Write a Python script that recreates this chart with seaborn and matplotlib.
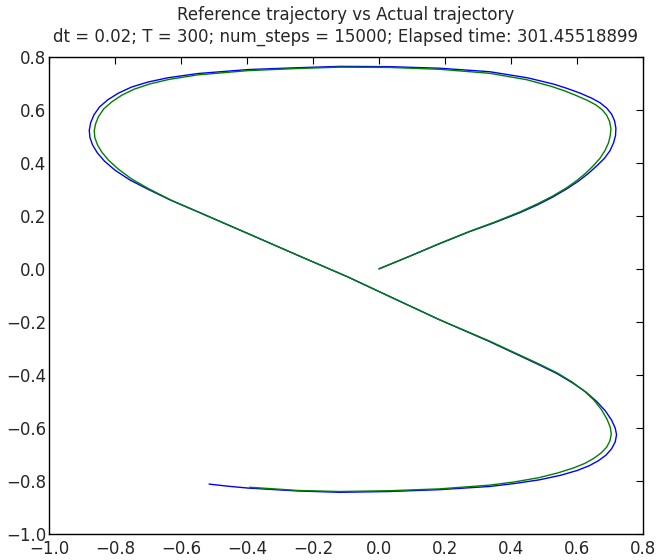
import numpy as np
import pandas as pd
import matplotlib
matplotlib.use("Agg")
import matplotlib.pyplot as plt
import seaborn as sns

# Reference trajectory (blue)
ref_x = [0.000, 0.090, 0.184, 0.274, 0.350, 0.426, 0.480, 0.526, 0.570, 0.605,
         0.635, 0.660, 0.683, 0.700, 0.711, 0.717, 0.718, 0.714, 0.705, 0.690,
         0.670, 0.645, 0.610, 0.570, 0.530, 0.450, 0.335, 0.184, 0.032, -0.119,
         -0.246, -0.397, -0.549, -0.640, -0.700, -0.750, -0.790, -0.822, -0.847, -0.864,
         -0.874, -0.878, -0.876, -0.868, -0.854, -0.832, -0.800, -0.755, -0.700, -0.630,
         -0.549, -0.397, -0.246, -0.095, 0.032, 0.184, 0.335, 0.486, 0.540, 0.587,
         0.628, 0.660, 0.686, 0.705, 0.716, 0.720, 0.716, 0.705, 0.688, 0.665,
         0.637, 0.600, 0.550, 0.486, 0.410, 0.335, 0.184, 0.032, -0.119, -0.246,
         -0.397, -0.458, -0.515]
ref_y = [0.000, 0.046, 0.095, 0.140, 0.174, 0.211, 0.241, 0.270, 0.302, 0.331,
         0.360, 0.388, 0.416, 0.445, 0.475, 0.503, 0.530, 0.558, 0.583, 0.606,
         0.626, 0.643, 0.662, 0.680, 0.696, 0.720, 0.743, 0.756, 0.762, 0.763,
         0.758, 0.751, 0.736, 0.720, 0.704, 0.685, 0.662, 0.637, 0.610, 0.580,
         0.550, 0.522, 0.495, 0.467, 0.438, 0.406, 0.372, 0.335, 0.300, 0.258,
         0.215, 0.133, 0.051, -0.030, -0.104, -0.192, -0.274, -0.362, -0.395, -0.430,
         -0.465, -0.500, -0.535, -0.570, -0.600, -0.625, -0.652, -0.678, -0.702, -0.723,
         -0.742, -0.760, -0.778, -0.795, -0.809, -0.820, -0.832, -0.839, -0.842, -0.837,
         -0.826, -0.819, -0.811]

# Actual trajectory (green)
act_x = [0.000, 0.090, 0.184, 0.274, 0.350, 0.426, 0.480, 0.526, 0.568, 0.600,
         0.627, 0.650, 0.670, 0.685, 0.696, 0.701, 0.703, 0.699, 0.690, 0.676,
         0.657, 0.633, 0.600, 0.562, 0.524, 0.447, 0.335, 0.184, 0.032, -0.119,
         -0.246, -0.397, -0.549, -0.636, -0.694, -0.742, -0.780, -0.810, -0.834, -0.850,
         -0.859, -0.863, -0.861, -0.853, -0.840, -0.820, -0.791, -0.750, -0.698, -0.630,
         -0.549, -0.397, -0.246, -0.095, 0.032, 0.184, 0.335, 0.486, 0.540, 0.585,
         0.622, 0.651, 0.674, 0.691, 0.701, 0.704, 0.700, 0.690, 0.673, 0.651,
         0.624, 0.590, 0.542, 0.484, 0.410, 0.335, 0.184, 0.032, -0.119, -0.246,
         -0.392]
act_y = [0.000, 0.046, 0.096, 0.141, 0.176, 0.214, 0.245, 0.274, 0.305, 0.333,
         0.361, 0.389, 0.417, 0.446, 0.476, 0.503, 0.528, 0.555, 0.579, 0.600,
         0.618, 0.634, 0.652, 0.671, 0.687, 0.713, 0.737, 0.752, 0.759, 0.760,
         0.755, 0.747, 0.731, 0.714, 0.697, 0.677, 0.654, 0.629, 0.603, 0.574,
         0.546, 0.520, 0.494, 0.467, 0.440, 0.410, 0.377, 0.339, 0.302, 0.259,
         0.215, 0.133, 0.051, -0.030, -0.104, -0.192, -0.272, -0.359, -0.392, -0.426,
         -0.460, -0.494, -0.530, -0.566, -0.597, -0.622, -0.648, -0.672, -0.694, -0.714,
         -0.733, -0.750, -0.769, -0.787, -0.803, -0.815, -0.829, -0.836, -0.839, -0.835,
         -0.823]

ref = pd.DataFrame({"x": ref_x, "y": ref_y})
act = pd.DataFrame({"x": act_x, "y": act_y})

sns.set_style("white")
plt.rcParams['font.family'] = ['DejaVu Sans']
plt.rcParams['xtick.direction'] = 'in'
plt.rcParams['ytick.direction'] = 'in'

fig = plt.figure(figsize=(6.57, 5.6), dpi=100)
ax = fig.add_axes([0.0746, 0.046, 0.904, 0.853])

sns.lineplot(data=ref, x="x", y="y", sort=False, estimator=None, color=(0, 0, 1),
             linewidth=1.0, ax=ax)
sns.lineplot(data=act, x="x", y="y", sort=False, estimator=None, color=(0, 0.5, 0),
             linewidth=1.0, ax=ax)

ax.set_xlim(-1.0, 0.8)
ax.set_ylim(-1.0, 0.8)
ax.set_xticks(np.arange(-1.0, 0.81, 0.2))
ax.set_yticks(np.arange(-1.0, 0.81, 0.2))
ax.set_xlabel("")
ax.set_ylabel("")
ax.tick_params(which='both', top=True, right=True, length=5, width=0.8,
               labelsize=12, color='black')
ax.tick_params(axis='x', pad=4)
ax.tick_params(axis='y', pad=2)
for s in ax.spines.values():
    s.set_color('black')
    s.set_linewidth(1.0)

ax.set_title("Reference trajectory vs Actual trajectory\n"
             "dt = 0.02; T = 300; num_steps = 15000; Elapsed time: 301.45518899",
             fontsize=12, pad=11, linespacing=1.2)

fig.savefig("out.png", dpi=100, facecolor='white')
